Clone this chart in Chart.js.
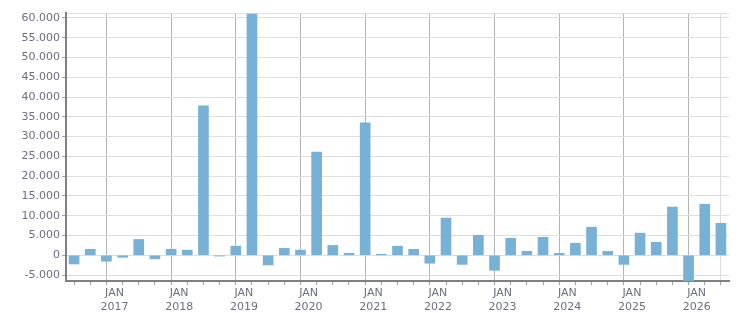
<!DOCTYPE html>
<html>
<head>
<meta charset="utf-8">
<script src="https://cdn.jsdelivr.net/npm/chart.js@4"></script>
<style>
  html, body { margin: 0; padding: 0; background: #fff; }
  #wrap { width: 751px; height: 313px; }
</style>
</head>
<body>
<div id="wrap"><canvas id="chart"></canvas></div>
<script>
// quarterly values, Q2 2016 .. Q2 2026
const quarters = [
  '2016-Q2', '2016-Q3', '2016-Q4',
  '2017-Q1', '2017-Q2', '2017-Q3', '2017-Q4',
  '2018-Q1', '2018-Q2', '2018-Q3', '2018-Q4',
  '2019-Q1', '2019-Q2', '2019-Q3', '2019-Q4',
  '2020-Q1', '2020-Q2', '2020-Q3', '2020-Q4',
  '2021-Q1', '2021-Q2', '2021-Q3', '2021-Q4',
  '2022-Q1', '2022-Q2', '2022-Q3', '2022-Q4',
  '2023-Q1', '2023-Q2', '2023-Q3', '2023-Q4',
  '2024-Q1', '2024-Q2', '2024-Q3', '2024-Q4',
  '2025-Q1', '2025-Q2', '2025-Q3', '2025-Q4',
  '2026-Q1', '2026-Q2'
];
const values = [
  -2200, 1500, -1500,
  -500, 4000, -900, 1500,
  1300, 37800, -200, 2300,
  61000, -2450, 1750, 1300,
  26100, 2500, 500, 33500,
  250, 2300, 1500, -2000,
  9400, -2300, 5050, -3800,
  4300, 1000, 4550, 500,
  3050, 7100, 1000, -2300,
  5600, 3300, 12200, -6500,
  12900, 8100
];
const yTicks = [-5000, 0, 5000, 10000, 15000, 20000, 25000, 30000,
  35000, 40000, 45000, 50000, 55000, 60000];
const yMin = -6500;
const yMax = 61250;

const fmt = (v) => {
  const s = Math.abs(v).toString().replace(/\B(?=(\d{3})+(?!\d))/g, '.');
  return v < 0 ? '-' + s : s;
};

const isJan = (v) => Number.isInteger(v) && quarters[v] && quarters[v].endsWith('Q1');
const textColor = '#6c6e80';

new Chart(document.getElementById('chart'), {
  type: 'bar',
  data: {
    datasets: [{
      data: values.map((v, i) => ({ x: i + 0.5, y: v })),
      backgroundColor: '#77b1d5',
      barThickness: 10,
    }],
  },
  options: {
    responsive: true,
    maintainAspectRatio: false,
    animation: false,
    layout: { padding: { top: 13, right: 22, left: 0, bottom: 0 } },
    plugins: { legend: { display: false }, tooltip: { enabled: false } },
    scales: {
      x: {
        type: 'linear',
        min: 0,
        max: quarters.length,
        offset: false,
        afterFit: (scale) => { scale.height = 32; },
        border: { display: true, color: '#808080', width: 2 },
        grid: {
          drawOnChartArea: true,
          tickLength: 4,
          color: (ctx) => {
            const v = ctx.tick && ctx.tick.value;
            if (isJan(v)) return '#b4b4b4';
            if (v === quarters.length) return '#dcdcdc';
            return 'rgba(0,0,0,0)';
          },
          tickColor: '#a0a0a0',
        },
        ticks: {
          stepSize: 1,
          autoSkip: false,
          maxRotation: 0,
          padding: 2,
          color: textColor,
          font: { family: 'DejaVu Sans', size: 11 },
          callback: (v) => isJan(v) ? ['JAN', quarters[v].slice(0, 4)] : '',
        },
      },
      y: {
        min: yMin,
        max: yMax,
        afterFit: (scale) => { scale.width = 66; },
        afterBuildTicks: (scale) => {
          scale.ticks = [yMin, ...yTicks, yMax].map((v) => ({ value: v }));
        },
        border: { display: true, color: '#808080', width: 2 },
        grid: {
          color: '#dedede',
          tickLength: 4,
          tickColor: (ctx) => yTicks.includes(ctx.tick && ctx.tick.value) ? '#a0a0a0' : 'rgba(0,0,0,0)',
        },
        ticks: {
          padding: 2,
          color: textColor,
          font: { family: 'DejaVu Sans', size: 11 },
          callback: (v) => yTicks.includes(v) ? fmt(v) : '',
        },
      },
    },
  },
});
</script>
</body>
</html>
